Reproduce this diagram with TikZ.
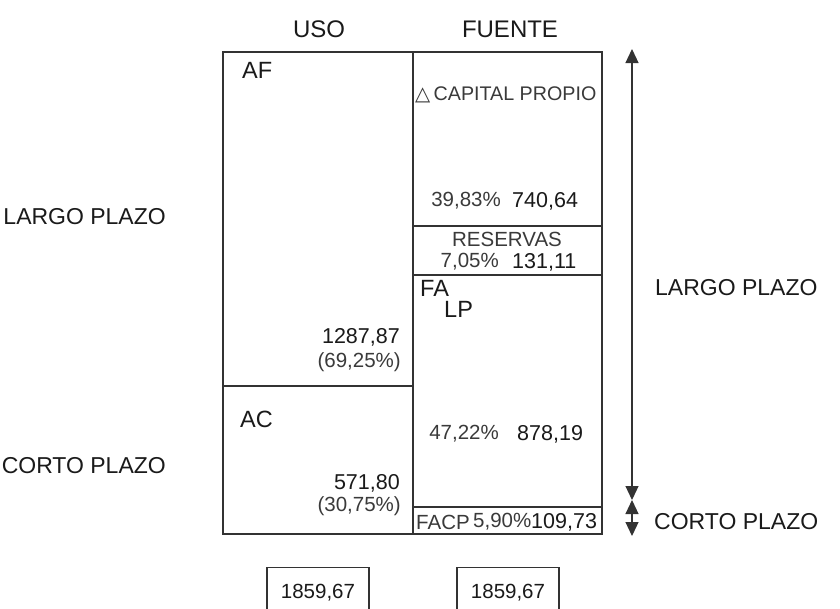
\documentclass[tikz,border=0pt]{standalone}
\usepackage{fontspec}
\setmainfont{Liberation Sans}
\newfontfamily\symfont{DejaVu Sans}
\usetikzlibrary{arrows.meta}
\definecolor{ink}{HTML}{1A1A1A}
\definecolor{soft}{HTML}{3A3A3A}
\definecolor{rule}{HTML}{333333}
\begin{document}
\begin{tikzpicture}[x=1pt,y=-1pt,
  frame/.style={draw=rule, line width=1.3pt},
  big/.style={inner sep=0pt, text=ink, font=\fontsize{23}{23}\selectfont},
  head/.style={inner sep=0pt, text=ink, font=\fontsize{24}{24}\selectfont},
  tag/.style={inner sep=0pt, text=ink, font=\fontsize{23.5}{23.5}\selectfont},
  val/.style={inner sep=0pt, text=ink, font=\fontsize{21.5}{21.5}\selectfont},
  pct/.style={inner sep=0pt, text=soft, font=\fontsize{20.5}{20.5}\selectfont},
  total/.style={draw=rule, line width=1.2pt, minimum width=102pt, minimum height=50pt, anchor=north, text=ink, font=\fontsize{20.5}{20.5}\selectfont},
  span/.style={draw=rule, line width=1.2pt, {Triangle[width=13pt,length=14pt]}-{Triangle[width=13pt,length=14pt]}}
]
\useasboundingbox (0,0) rectangle (840,608);
\clip (0,0) rectangle (840,608);
\fill[white] (0,0) rectangle (840,608);

% headers
\node[head] (uso) at (319,29) {USO};
\node[head] (fuente) at (510,29) {FUENTE};

% left column (uso)
\draw[frame] (223,52) rectangle (413,534);
\draw[frame] (223,386) -- (413,386);
% right column (fuente)
\draw[frame] (413,52) rectangle (602,534);
\draw[frame] (413,226) -- (602,226);
\draw[frame] (413,275) -- (602,275);
\draw[frame] (413,507) -- (602,507);

% left texts
\node[tag, anchor=west] (af) at (242,70) {AF};
\node[val, anchor=east] (v1) at (400,337) {1287,87};
\node[pct, anchor=east] (p1) at (401,362) {(69,25\%)};
\node[tag, anchor=west] (ac) at (240,419) {AC};
\node[val, anchor=east] (v2) at (400,483) {571,80};
\node[pct, anchor=east] (p2) at (401,506) {(30,75\%)};

% right texts
\node[pct, anchor=west, font=\fontsize{19.7}{19.7}\selectfont] (cp) at (415,95) {{\symfont △}\,CAPITAL PROPIO};
\node[pct, anchor=east] (p3) at (501,201) {39,83\%};
\node[val, anchor=west] (v3) at (512,201) {740,64};
\node[pct] (res) at (507,239) {RESERVAS};
\node[pct, anchor=east] (p4) at (499,262) {7,05\%};
\node[val, anchor=west] (v4) at (512,262) {131,11};
\node[tag, anchor=west] (fa) at (420,288) {FA};
\node[tag, anchor=west] (lp) at (444,309) {LP};
\node[pct, anchor=east] (p5) at (499,434) {47,22\%};
\node[val, anchor=west] (v5) at (517,434) {878,19};
\node[pct, anchor=west] (facp) at (416,522) {FACP};
\node[pct, anchor=west] (p6) at (473,522) {5,90\%};
\node[val, anchor=west] (v6) at (531,522) {109,73};

% side labels
\node[big, anchor=east] (lpl) at (166,217) {LARGO PLAZO};
\node[big, anchor=east] (cpl) at (166,466) {CORTO PLAZO};
\node[big, anchor=west] (lpr) at (655,288) {LARGO PLAZO};
\node[big, anchor=west] (cpr) at (654,522) {CORTO PLAZO};

% arrows
\coordinate (atop) at (632,49);
\coordinate (amid) at (632,500);
\coordinate (abot) at (632,536);
\draw[span] (atop) -- (amid);
\draw[span] (amid) -- (abot);

% totals
\node[total] (t1) at (318,567) {1859,67};
\node[total] (t2) at (508,567) {1859,67};
\end{tikzpicture}
\end{document}
